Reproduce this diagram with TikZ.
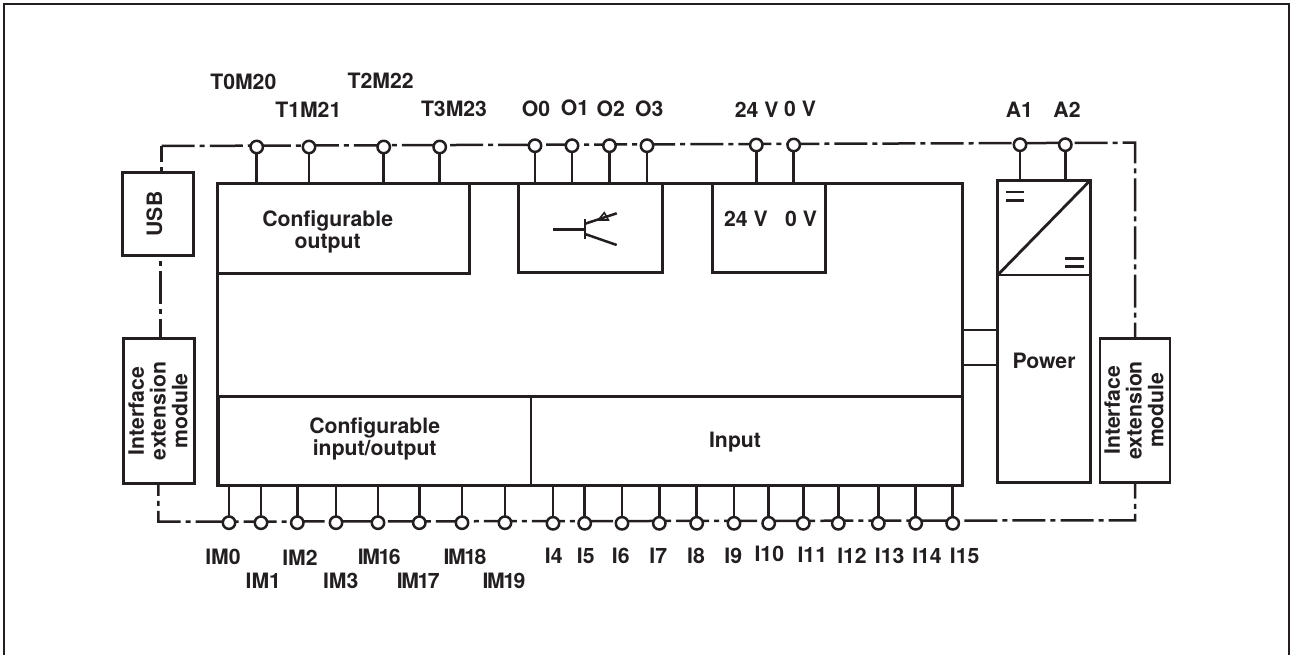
\documentclass[tikz,border=0pt]{standalone}
\usepackage{fontspec}
\setmainfont{TeX Gyre Heros}
\definecolor{ink}{HTML}{231F20}
\newcommand{\bx}[5]{\node[boxst,minimum width={(#4-#2)*1pt},minimum height={(#5-#3)*1pt}] (#1) at ({(#2+#4)/2},{(#3+#5)/2}) {};}
\newcommand{\lb}[4]{\node[lab] (#1) at (#2,#3) {#4};}
\newcommand{\tm}[3]{\node[term] (#1) at (#2,#3) {};}
\tikzset{
  boxst/.style={draw=ink,line width=2.7pt,fill=white,inner sep=0pt,outer sep=0pt,rectangle},
  lab/.style={text=ink,inner sep=0pt,outer sep=0pt,align=center,font=\bfseries\fontsize{21.2}{21.7}\selectfont},
  tight/.style={font=\bfseries\fontsize{21.2}{21.7}\selectfont\addfontfeature{LetterSpace=-7}},
  term/.style={circle,draw=ink,line width=2.5pt,fill=white,minimum size=12.4pt,inner sep=0pt,outer sep=0pt},
  wire/.style={draw=ink,line width=2.5pt},
  thin wire/.style={draw=ink,line width=2pt},
  dd/.style={draw=ink,line width=2.5pt,dash pattern=on 33pt off 5pt on 5pt off 5.05pt},
}
\begin{document}
\begin{tikzpicture}[x=1pt,y=-1pt]
\useasboundingbox (0,0) rectangle (1290,655);
\draw[draw=ink,line width=2pt] (4,655) -- (4,4) -- (1288.5,4) -- (1288.5,655);

% boxes
\bx{main}{217.5}{183.3}{962.7}{485.3}
\bx{cout}{217.5}{183.3}{469.3}{273.3}
\bx{trans}{518.7}{183.3}{662.3}{272.3}
\bx{vbox}{712.7}{183.3}{825.3}{272.3}
\bx{cio}{217.5}{396.3}{531}{485.3}
\bx{inp}{531}{396.3}{962.7}{485.3}
\bx{ptop}{997.7}{180.3}{1090.3}{275}
\bx{plow}{997.7}{275}{1090.3}{482.7}
\bx{usb}{122.7}{172.3}{193.3}{255.7}
\bx{ifl}{123.7}{338.7}{194.3}{483.3}
\bx{ifr}{1100}{338.7}{1170}{482.3}
\draw[draw=ink,line width=3.6pt] (217.8,396.3) -- (217.8,485.3);
\draw[draw=ink,line width=3.4pt] (217.5,485.3) -- (962.7,485.3);

% dash-dot rails
\coordinate (cTL) at (161.7,146);
\coordinate (cTR) at (1135,142.7);
\coordinate (cBL) at (158.3,521.7);
\coordinate (cBR) at (1135,520.3);
\coordinate (usbT) at (161.7,172.3);
\coordinate (usbB) at (160.7,255.7);
\coordinate (iflT) at (160.7,338.7);
\draw[dd] (cTL) -- (cTR) -- (ifr.north -| cTR);
\draw[dd,dash phase=38pt] (usbT) -- (cTL);
\draw[dd,dash phase=32.6pt] (usbB) -- (iflT);
\draw[dd,dash phase=20.4pt] (ifl.south -| cBL) -- (cBL) -- (cBR) -- (ifr.south -| cBR);

% terminals top
\tm{t0}{256.7}{147}\tm{t1}{309}{147}\tm{t2}{383.7}{147}\tm{t3}{439.7}{147}
\tm{o0}{535}{145.7}\tm{o1}{572}{145.7}\tm{o2}{609.5}{145.7}\tm{o3}{647}{145.7}
\tm{v24}{756.3}{145}\tm{v0}{793.7}{145}
\tm{a1}{1020}{144.7}\tm{a2}{1065.3}{144.7}
\foreach \n in {t0,t1,t2,t3,o0,o1,o2,o3,v24,v0}
  \draw[wire] (\n.south) -- (\n.south |- main.north);
\foreach \n in {a1,a2}
  \draw[wire] (\n.south) -- (\n.south |- ptop.north);

% terminals bottom
\tm{im0}{229}{522.7}\tm{im1}{261}{522.7}\tm{im2}{297.3}{522.7}\tm{im3}{336}{522.7}
\tm{im16}{378}{522.7}\tm{im17}{419.3}{522.7}\tm{im18}{462}{522.7}\tm{im19}{505}{522.7}
\tm{i4}{553}{523.3}\tm{i5}{584.7}{523.3}\tm{i6}{622}{523.3}\tm{i7}{659.3}{523.3}
\tm{i8}{696.7}{523.3}\tm{i9}{734}{523.3}\tm{i10}{768.7}{523.3}\tm{i11}{803.3}{523.3}
\tm{i12}{838.3}{523.3}\tm{i13}{878.3}{523.3}\tm{i14}{915.7}{523.3}\tm{i15}{952.7}{523.3}
\foreach \n in {im0,im1,im2,im3,im16,im17,im18,im19,i4,i5,i6,i7,i8,i9,i10,i11,i12,i13,i14,i15}
  \draw[wire] (\n.north) -- (\n.north |- main.south);

% links main to power
\coordinate (lkA) at (963,329.7);
\coordinate (lkB) at (963,365.3);
\draw[thin wire] (lkA) -- (lkA -| plow.west);
\draw[thin wire] (lkB) -- (lkB -| plow.west);

% converter symbol
\draw[wire,line width=2.8pt] (ptop.south west) -- (ptop.north east);
\draw[wire] (1005.7,192) -- (1024.3,192) (1005.7,200.3) -- (1024.3,200.3);
\draw[wire] (1065,258.3) -- (1083.7,258.3) (1065,266.3) -- (1083.7,266.3);

% transistor symbol
\draw[wire] (553.3,229.3) -- (585,229.3);
\draw[wire] (585,219.3) -- (585,239.3);
\draw[wire] (585,223.8) -- (616.7,213.3);
\draw[wire] (585,234) -- (616.7,245);
\draw[draw=ink,line width=1.6pt] (604.3,212.7) -- (598.3,220) -- (608.3,220) -- cycle;

% labels
\lb{lt0}{243.3}{81.7}{T0M20}
\lb{lt1}{308.3}{109.3}{T1M21}
\lb{lt2}{380.7}{81}{T2M22}
\lb{lt3}{454}{109.3}{T3M23}
\lb{lo0}{536}{108.7}{O0}
\lb{lo1}{575}{107.3}{O1}
\lb{lo2}{610.7}{108.7}{O2}
\lb{lo3}{649.3}{108.7}{O3}
\lb{lv24}{756.7}{109.7}{24 V}
\lb{lv0}{800}{108.7}{0 V}
\lb{la1}{1019.3}{109.3}{A1}
\lb{la2}{1067}{109.3}{A2}
\lb{in24}{746}{218.7}{24 V}
\lb{in0}{801}{218.7}{0 V}
\lb{tcout}{327.7}{232}{Configurable\\output}
\lb{tcio}{374.7}{439}{Configurable\\input/output}
\lb{tinp}{735}{441.7}{Input}
\lb{tpow}{1044}{361}{Power}
\node[lab,rotate=90] (tusb) at (154.3,214) {USB};
\node[lab,rotate=90] (tifl) at (158,411) {Interface\\extension\\module};
\node[lab,rotate=90] (tifr) at (1134,410.3) {Interface\\extension\\module};

\lb{lim0}{223}{557.3}{IM0}
\lb{lim1}{263.3}{580.7}{IM1}
\lb{lim2}{300}{557.3}{IM2}
\lb{lim3}{340.7}{580.7}{IM3}
\node[lab,tight] (lim16) at (379.3,557.3) {IM16};
\node[lab,tight] (lim17) at (418.3,580.7) {IM17};
\node[lab,tight] (lim18) at (465,557.3) {IM18};
\node[lab,tight] (lim19) at (504,580.7) {IM19};
\lb{li4}{553.7}{555.7}{I4}
\lb{li5}{585.7}{555.7}{I5}
\lb{li6}{620.7}{555.7}{I6}
\lb{li7}{658.3}{555.7}{I7}
\lb{li8}{696}{555.7}{I8}
\lb{li9}{733.3}{555.7}{I9}
\lb{li10}{769.3}{554.3}{I10}
\lb{li11}{812.3}{554.3}{I11}
\lb{li12}{852}{555.7}{I12}
\lb{li13}{889.7}{555.7}{I13}
\lb{li14}{927}{555.7}{I14}
\lb{li15}{964.7}{555.7}{I15}
\end{tikzpicture}
\end{document}
